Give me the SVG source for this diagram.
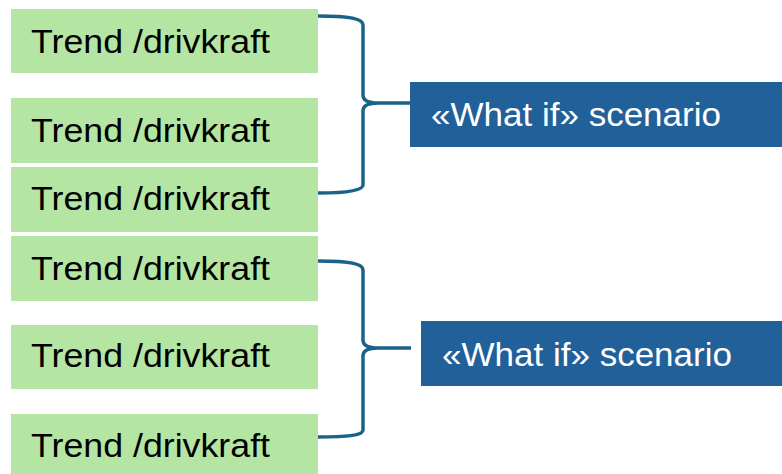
<svg xmlns="http://www.w3.org/2000/svg" width="782" height="474" viewBox="0 0 782 474">
<style>
.trend rect{fill:#b5e5a3}
.trend text{font-family:"Liberation Sans",Arial,sans-serif;font-size:33px;fill:#000}
.scen rect{fill:#22609a}
.scen text{font-family:"Liberation Sans",Arial,sans-serif;font-size:33px;fill:#fff}
.brace{fill:none;stroke:#1b6289;stroke-width:3.5;stroke-linejoin:round}
</style>
<rect width="782" height="474" fill="#fff"/>
<g id="trend1" class="trend"><rect x="11" y="9" width="307" height="64"/><text x="31" y="53" textLength="239" lengthAdjust="spacingAndGlyphs">Trend /drivkraft</text></g>
<g id="trend2" class="trend"><rect x="11" y="98" width="307" height="65"/><text x="31" y="142" textLength="239" lengthAdjust="spacingAndGlyphs">Trend /drivkraft</text></g>
<g id="trend3" class="trend"><rect x="11" y="167" width="307" height="65"/><text x="31" y="210" textLength="239" lengthAdjust="spacingAndGlyphs">Trend /drivkraft</text></g>
<g id="trend4" class="trend"><rect x="11" y="236" width="307" height="65"/><text x="31" y="280" textLength="239" lengthAdjust="spacingAndGlyphs">Trend /drivkraft</text></g>
<g id="trend5" class="trend"><rect x="11" y="325" width="307" height="64"/><text x="31" y="367" textLength="239" lengthAdjust="spacingAndGlyphs">Trend /drivkraft</text></g>
<g id="trend6" class="trend"><rect x="11" y="414" width="307" height="60"/><text x="31" y="457" textLength="239" lengthAdjust="spacingAndGlyphs">Trend /drivkraft</text></g>
<g id="scenario1" class="scen"><rect x="410" y="82" width="372" height="65"/><text x="431" y="126" textLength="290" lengthAdjust="spacingAndGlyphs">«What if» scenario</text></g>
<g id="scenario2" class="scen"><rect x="421" y="321" width="361" height="65"/><text x="442" y="366" textLength="290" lengthAdjust="spacingAndGlyphs">«What if» scenario</text></g>
<g id="connectors">
<path class="brace" d="M318,16 C350,16 363,19 363,25 L363,95 C363,100 368,103 378,103 L410,103 M378,103 C368,103 363,106 363,111 L363,185 C363,190 350,193 318,193"/>
<path class="brace" d="M318,261 C350,261 363,264 363,270 L363,340 C363,345 368,348 378,348 L411,348 M378,348 C368,348 363,351 363,356 L363,430 C363,435 350,437 318,437"/>
</g>
</svg>
